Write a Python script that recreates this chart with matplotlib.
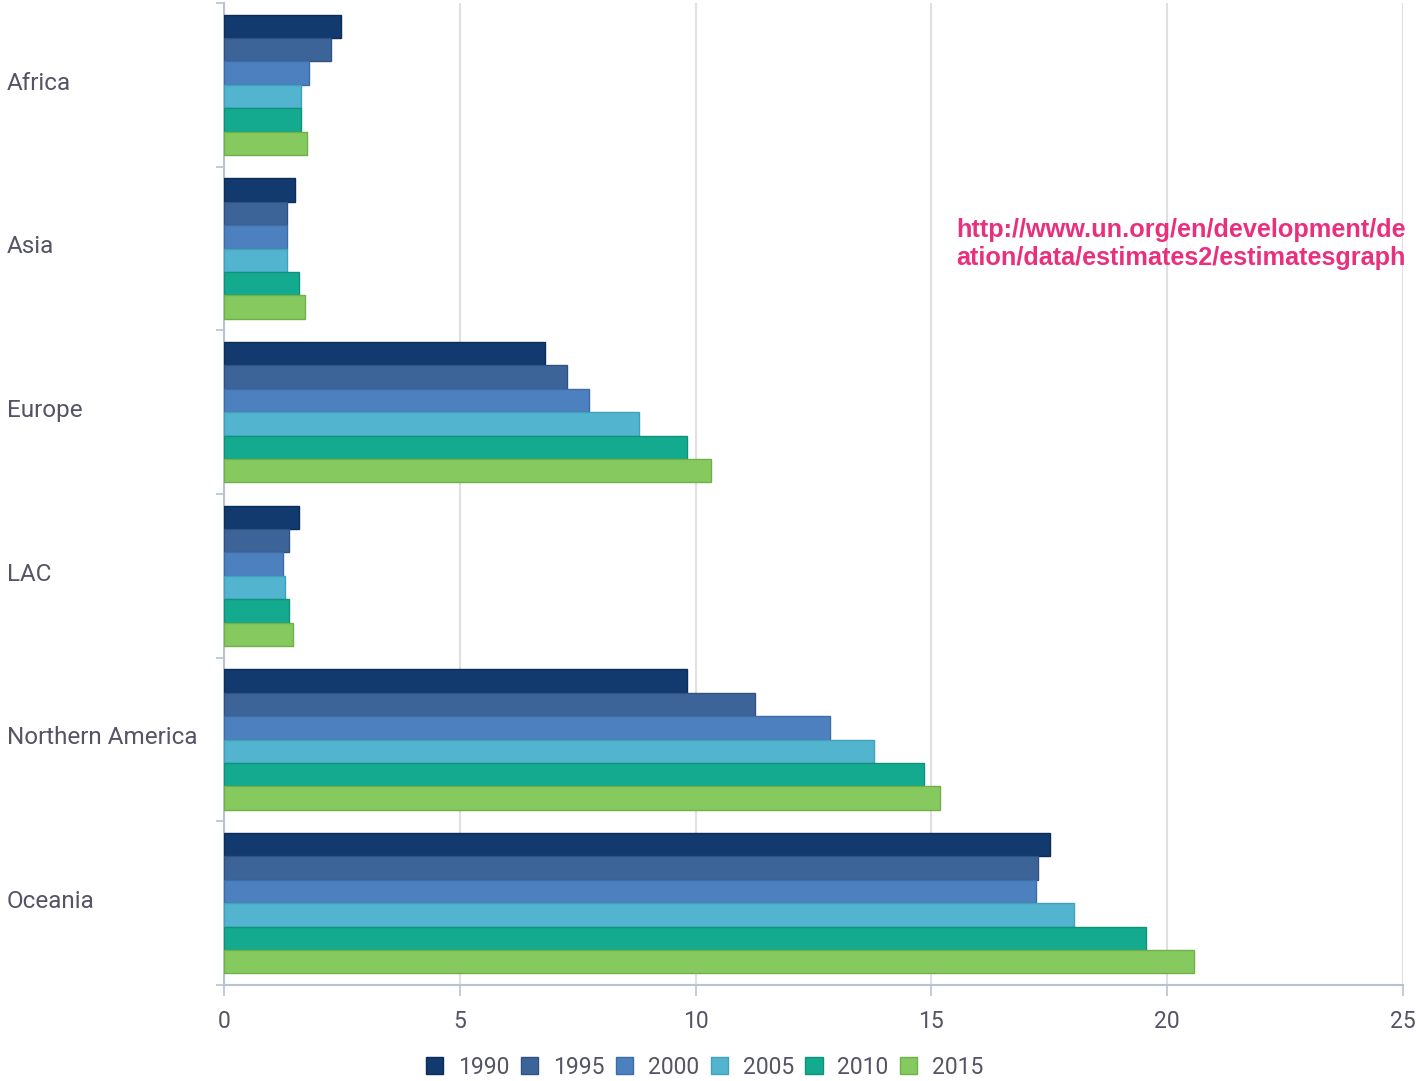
import matplotlib.pyplot as plt
import numpy as np
from matplotlib.transforms import blended_transform_factory

regions = ["Africa", "Asia", "Europe", "LAC", "Northern America", "Oceania"]
years = ["1990", "1995", "2000", "2005", "2010", "2015"]

v1990 = [2.48, 1.50, 6.80, 1.59, 9.81, 17.52]
v1995 = [2.27, 1.33, 7.27, 1.38, 11.25, 17.27]
v2000 = [1.80, 1.33, 7.73, 1.25, 12.86, 17.22]
v2005 = [1.63, 1.33, 8.79, 1.29, 13.79, 18.03]
v2010 = [1.63, 1.59, 9.81, 1.38, 14.85, 19.56]
v2015 = [1.76, 1.72, 10.32, 1.46, 15.19, 20.57]
series = [v1990, v1995, v2000, v2005, v2010, v2015]

colors = ["#123A6E", "#3D6499", "#4D80BE", "#52B4CF", "#14AA8F", "#86CA5F"]
edges = ["#0C2D58", "#2F5283", "#3C6DA8", "#41A0BA", "#0F927A", "#6FB04A"]

# source link, only the part visible inside the picture
note = "http://www.un.org/en/development/de\nation/data/estimates2/estimatesgraph"

txt = "#545466"
plt.rcParams["font.family"] = ["Roboto", "DejaVu Sans"]

fig = plt.figure(figsize=(14.21, 10.81), dpi=100)
ax = fig.add_axes([224 / 1421, 1 - 985 / 1081, (1403 - 224) / 1421, (985 - 3) / 1081])

y = np.arange(len(regions))
h = 0.143
for i, (vals, c, e) in enumerate(zip(series, colors, edges)):
    off = (i - 2.5) * h
    ax.barh(y + off, vals, height=h, color=c, edgecolor=e, linewidth=1,
            label=years[i], zorder=3)

ax.set_xlim(0, 25)
ax.set_ylim(5.5, -0.5)
ax.set_xticks([0, 5, 10, 15, 20, 25])
ax.set_xticklabels(["0", "5", "10", "15", "20", "25"])
ax.grid(axis="x", color="#E0E0E3", linewidth=1.5, zorder=0)
ax.set_yticks(np.arange(-0.5, 6, 1))
ax.set_yticklabels([])
ax.tick_params(axis="y", length=6, color="#B8C2D2", width=1.2)
ax.tick_params(axis="x", length=8, color="#B8C2D2", width=1.2,
               labelsize=16.5, labelcolor=txt, pad=10)

for s in ["top", "right"]:
    ax.spines[s].set_visible(False)
for s in ["left", "bottom"]:
    ax.spines[s].set_color("#B8C2D2")
    ax.spines[s].set_linewidth(1.5)

trans = blended_transform_factory(fig.transFigure, ax.transData)
for k, r in enumerate(regions):
    ax.text(7 / 1421, k - 0.01, r, transform=trans, ha="left", va="center",
            fontsize=17.5, color=txt)

fig.text(956 / 1421, 1 - 244 / 1081, note, ha="left", va="center",
         fontsize=18.2, fontweight="bold", color="#E8307F",
         family=["Liberation Sans", "DejaVu Sans"], linespacing=1.25)

fig.legend(loc="center", bbox_to_anchor=(0.496, 1 - 1067 / 1081), ncol=6,
           frameon=False, fontsize=16.5, handlelength=0.75, handleheight=0.75,
           handletextpad=0.65, columnspacing=0.5, labelcolor=txt)

fig.savefig("out.png", dpi=100)
